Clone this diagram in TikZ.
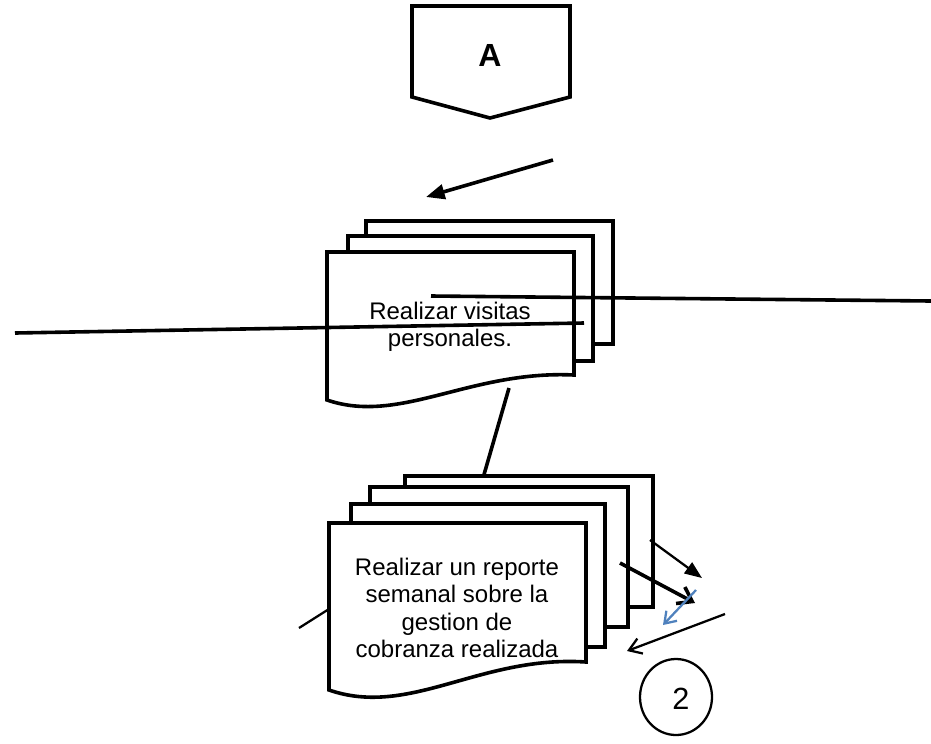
\documentclass[tikz,border=0pt]{standalone}
\usepackage{fontspec}
\setmainfont{Liberation Sans}
\usetikzlibrary{arrows.meta}
\tikzset{
  sheet/.style={draw=black, fill=white, line width=2.7pt, line join=miter},
  heavy/.style={draw=black, line width=2.7pt},
  thin/.style={draw=black, line width=1.7pt},
  label/.style={align=center, font=\fontsize{18}{20.6}\selectfont, inner sep=0pt},
}
\begin{document}
\begin{tikzpicture}[x=0.75pt, y=-0.75pt]
\useasboundingbox (0,0) rectangle (931,743);

% off-page connector A
\draw[sheet] (412,6) -- (570,6) -- (570,97) -- (490,118) -- (412,97) -- cycle;
\node[font=\fontsize{24}{27}\selectfont\bfseries] (A) at (490,55) {A};

% incoming arrow
\coordinate (inA) at (553,160);
\coordinate (inB) at (426,197);
\draw[heavy, -{Triangle[length=14pt, width=11pt]}] (inA) -- (inB);

% first stack of documents
\draw[sheet] (366,221) rectangle (613,344);
\draw[sheet] (348,236) rectangle (593,361);
\draw[sheet] (327,252) -- (574,252) -- (574,375)
  .. controls (470,370) and (400,425) .. (327,400) -- cycle;
\node[label] (visitas) at (450,327) {Realizar visitas\\personales.};

% lines crossing the first stack
\coordinate (r1) at (431,296);
\coordinate (r2) at (931,301);
\coordinate (l1) at (15,333);
\coordinate (l2) at (584,323);
\draw[heavy] (r1) -- (r2);
\draw[heavy] (l1) -- (l2);

% link between the stacks
\coordinate (d1) at (509,388);
\coordinate (d2) at (481,485);
\draw[heavy] (d1) -- (d2);

% second stack of documents
\draw[sheet] (405,476) rectangle (653,607);
\draw[sheet] (370,487) rectangle (628,627);
\draw[sheet] (351,504) rectangle (605,647);
\draw[sheet] (329,523) -- (586,523) -- (586,662)
  .. controls (480,655) and (410,718) .. (329,690) -- cycle;
\node[label] (reporte) at (457,608) {Realizar un reporte\\semanal sobre la\\gestion de\\cobranza realizada};

% short line at the left of the second stack
\coordinate (s1) at (299,628);
\coordinate (s2) at (329,609);
\draw[thin] (s1) -- (s2);

% arrows at the right of the second stack
\coordinate (a1) at (650,540);
\coordinate (a2) at (702,578);
\draw[thin, -{Triangle[length=13pt, width=10pt]}] (a1) -- (a2);

\coordinate (b1) at (620,563);
\coordinate (b2) at (695,603);
\draw[heavy, -{Straight Barb[length=10pt, width=14pt]}] (b1) -- (b2);

\coordinate (c1) at (696,590);
\coordinate (c2) at (663,625);
\draw[draw={rgb,255:red,79;green,129;blue,189}, line width=1.7pt, -{Straight Barb[length=8pt, width=11pt]}] (c1) -- (c2);

\coordinate (e1) at (725,614);
\coordinate (e2) at (627,651);
\draw[thin, -{Straight Barb[length=9pt, width=12pt]}] (e1) -- (e2);

% connector circle
\draw[thin] (676,697) ellipse [x radius=36, y radius=38];
\node[font=\fontsize{23}{26}\selectfont] (two) at (681,699) {2};
\end{tikzpicture}
\end{document}
